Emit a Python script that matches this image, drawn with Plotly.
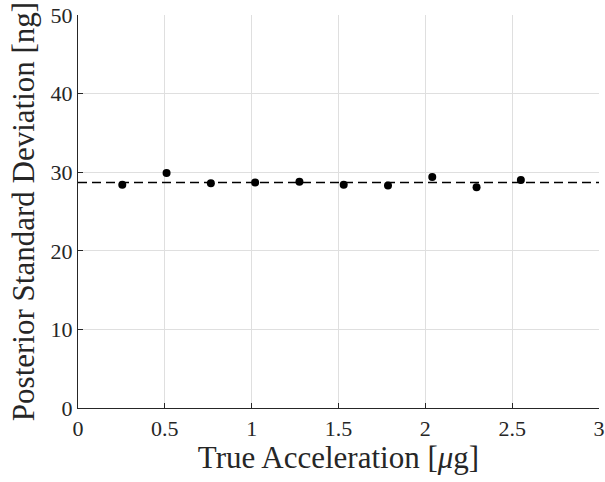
import plotly.graph_objects as go

accel = [0.255, 0.51, 0.765, 1.02, 1.275, 1.53, 1.785, 2.04, 2.295, 2.55]
post_std = [28.4, 29.9, 28.6, 28.7, 28.8, 28.4, 28.3, 29.4, 28.1, 29.0]
mean_std = 28.7
x_ticks = [0, 0.5, 1, 1.5, 2, 2.5, 3]
x_ticklabels = ["0", "0.5", "1", "1.5", "2", "2.5", "3"]
y_ticks = [0, 10, 20, 30, 40, 50]

font_family = "Liberation Serif, DejaVu Serif, serif"
ink = "#262626"

fig = go.Figure()
fig.add_trace(go.Scatter(x=[0, 3], y=[mean_std, mean_std], mode="lines",
                         line=dict(color="black", width=1.5, dash="9px,5px"),
                         showlegend=False, hoverinfo="skip"))
fig.add_trace(go.Scatter(x=accel, y=post_std, mode="markers",
                         marker=dict(color="black", size=8),
                         showlegend=False))

axis_common = dict(showline=True, linecolor=ink, linewidth=1.2,
                   ticks="inside", ticklen=5, tickcolor=ink,
                   showgrid=True, gridcolor="#dfdfdf", gridwidth=1,
                   zeroline=False, mirror=False, automargin=False,
                   ticklabeloverflow="allow",
                   tickfont=dict(family=font_family, size=22, color=ink))

fig.update_xaxes(range=[0, 3], tickvals=x_ticks, ticktext=x_ticklabels,
                 title=dict(text="True Acceleration [<i>μ</i>g]",
                            font=dict(family=font_family, size=31, color=ink),
                            standoff=2),
                 **axis_common)
fig.update_yaxes(range=[0, 50], tickvals=y_ticks,
                 title=dict(text="Posterior Standard Deviation [ng]",
                            font=dict(family=font_family, size=31, color=ink),
                            standoff=6),
                 **axis_common)

fig.update_layout(width=605, height=482,
                  margin=dict(l=78, r=6, t=15, b=74),
                  plot_bgcolor="white", paper_bgcolor="white",
                  font=dict(family=font_family, color=ink))

fig.write_html("out.html",
               config={"displayModeBar": False},
               post_script="document.body.style.margin='0';document.body.style.overflow='hidden';")
